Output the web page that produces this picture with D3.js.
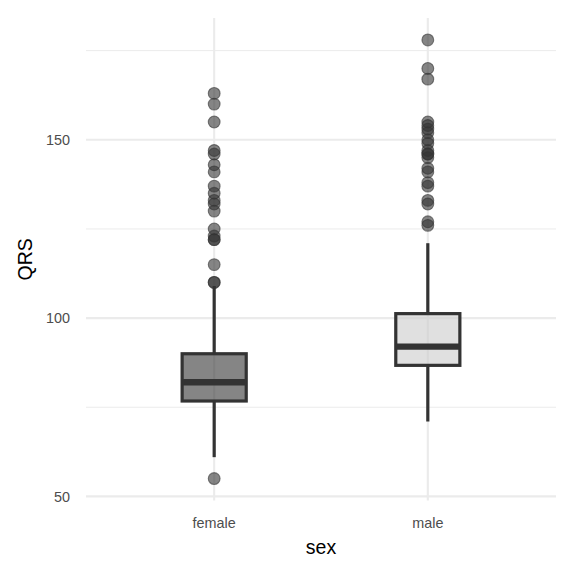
<!DOCTYPE html>
<html lang="en">
<head>
    <meta charset="UTF-8">
    <title>QRS by sex</title>
    <script src="https://cdnjs.cloudflare.com/ajax/libs/d3/7.8.5/d3.min.js"></script>
    <style>
        body { margin: 0; background: #ffffff; }
        svg { display: block; font-family: "Liberation Sans", Arial, sans-serif; }
    </style>
</head>
<body>
    <div id="chart"></div>

    <script>
        // Data
        const categories = ["female", "male"];
        const q1 = [76.75, 86.75];
        const median = [82, 92];
        const q3 = [90, 101.25];
        const whiskerLow = [61, 71];
        const whiskerHigh = [109, 121];
        const outliersFemale = [163, 160, 155, 147, 146, 143, 141, 137, 135, 133, 132, 130,
                                125, 123, 122, 122, 115, 110, 110, 55];
        const outliersMale = [178, 170, 167, 155, 154, 153, 152, 150, 149, 147, 146, 145, 146,
                              142, 141, 138, 137, 133, 132, 127, 126];
        const boxFills = ["#333333", "#cccccc"];
        const yTicks = [50, 100, 150];
        const yMinorTicks = [75, 125, 175];
        const xTitle = "sex";
        const yTitle = "QRS";

        // Layout
        const width = 576;
        const height = 576;
        const margin = { top: 18, right: 20, bottom: 75.5, left: 86 };
        const innerBottom = height - margin.bottom;
        const innerRight = width - margin.right;

        const svg = d3.select("#chart")
            .append("svg")
            .attr("width", width)
            .attr("height", height);

        // y domain = data range plus 5% on each side (ggplot default)
        const allValues = [].concat(whiskerLow, whiskerHigh, outliersFemale, outliersMale);
        const yMin = d3.min(allValues);
        const yMax = d3.max(allValues);
        const pad = (yMax - yMin) * 0.05;

        const y = d3.scaleLinear()
            .domain([yMin - pad, yMax + pad])
            .range([innerBottom, margin.top]);

        const x = d3.scalePoint()
            .domain(categories)
            .range([margin.left, innerRight])
            .padding(0.6);

        const boxWidth = x.step() * 0.3;

        // Grid
        const grid = svg.append("g");
        grid.selectAll(".minor")
            .data(yMinorTicks.filter(d => y(d) >= margin.top && y(d) <= innerBottom))
            .enter().append("line")
            .attr("x1", margin.left).attr("x2", innerRight)
            .attr("y1", d => y(d)).attr("y2", d => y(d))
            .attr("stroke", "#ebebeb").attr("stroke-width", 1);
        grid.selectAll(".major")
            .data(yTicks)
            .enter().append("line")
            .attr("x1", margin.left).attr("x2", innerRight)
            .attr("y1", d => y(d)).attr("y2", d => y(d))
            .attr("stroke", "#ebebeb").attr("stroke-width", 2.1);
        grid.selectAll(".vmajor")
            .data(categories)
            .enter().append("line")
            .attr("x1", d => x(d)).attr("x2", d => x(d))
            .attr("y1", margin.top).attr("y2", innerBottom)
            .attr("stroke", "#ebebeb").attr("stroke-width", 2.1);

        // Boxplots
        const outlierSets = [outliersFemale, outliersMale];
        categories.forEach((cat, i) => {
            const cx = x(cat);
            const g = svg.append("g");

            g.selectAll("circle")
                .data(outlierSets[i])
                .enter().append("circle")
                .attr("cx", cx)
                .attr("cy", d => y(d))
                .attr("r", 5.9)
                .attr("fill", "#333333")
                .attr("fill-opacity", 0.6)
                .attr("stroke", "#333333")
                .attr("stroke-opacity", 0.6)
                .attr("stroke-width", 1.1);

            g.append("line")
                .attr("x1", cx).attr("x2", cx)
                .attr("y1", y(q3[i])).attr("y2", y(whiskerHigh[i]))
                .attr("stroke", "#333333").attr("stroke-width", 3.2);
            g.append("line")
                .attr("x1", cx).attr("x2", cx)
                .attr("y1", y(q1[i])).attr("y2", y(whiskerLow[i]))
                .attr("stroke", "#333333").attr("stroke-width", 3.2);

            g.append("rect")
                .attr("x", cx - boxWidth / 2)
                .attr("y", y(q3[i]))
                .attr("width", boxWidth)
                .attr("height", y(q1[i]) - y(q3[i]))
                .attr("fill", boxFills[i])
                .attr("fill-opacity", 0.6)
                .attr("stroke", "#333333")
                .attr("stroke-width", 3.2);

            g.append("line")
                .attr("x1", cx - boxWidth / 2).attr("x2", cx + boxWidth / 2)
                .attr("y1", y(median[i])).attr("y2", y(median[i]))
                .attr("stroke", "#333333").attr("stroke-width", 6.4);
        });

        // Axes (no lines, only labels)
        svg.append("g")
            .selectAll("text")
            .data(yTicks)
            .enter().append("text")
            .attr("x", margin.left - 16)
            .attr("y", d => y(d))
            .attr("dy", "0.36em")
            .attr("text-anchor", "end")
            .attr("font-size", "14.4px")
            .attr("fill", "#4d4d4d")
            .text(d => d);

        svg.append("g")
            .selectAll("text")
            .data(categories)
            .enter().append("text")
            .attr("x", d => x(d))
            .attr("y", 528)
            .attr("text-anchor", "middle")
            .attr("font-size", "14.4px")
            .attr("fill", "#4d4d4d")
            .text(d => d);

        svg.append("text")
            .attr("x", (margin.left + innerRight) / 2)
            .attr("y", 554)
            .attr("text-anchor", "middle")
            .attr("font-size", "19.5px")
            .attr("fill", "#000000")
            .text(xTitle);

        svg.append("text")
            .attr("transform", `translate(32,${(margin.top + innerBottom) / 2}) rotate(-90)`)
            .attr("text-anchor", "middle")
            .attr("font-size", "19.5px")
            .attr("fill", "#000000")
            .text(yTitle);
    </script>
</body>
</html>
